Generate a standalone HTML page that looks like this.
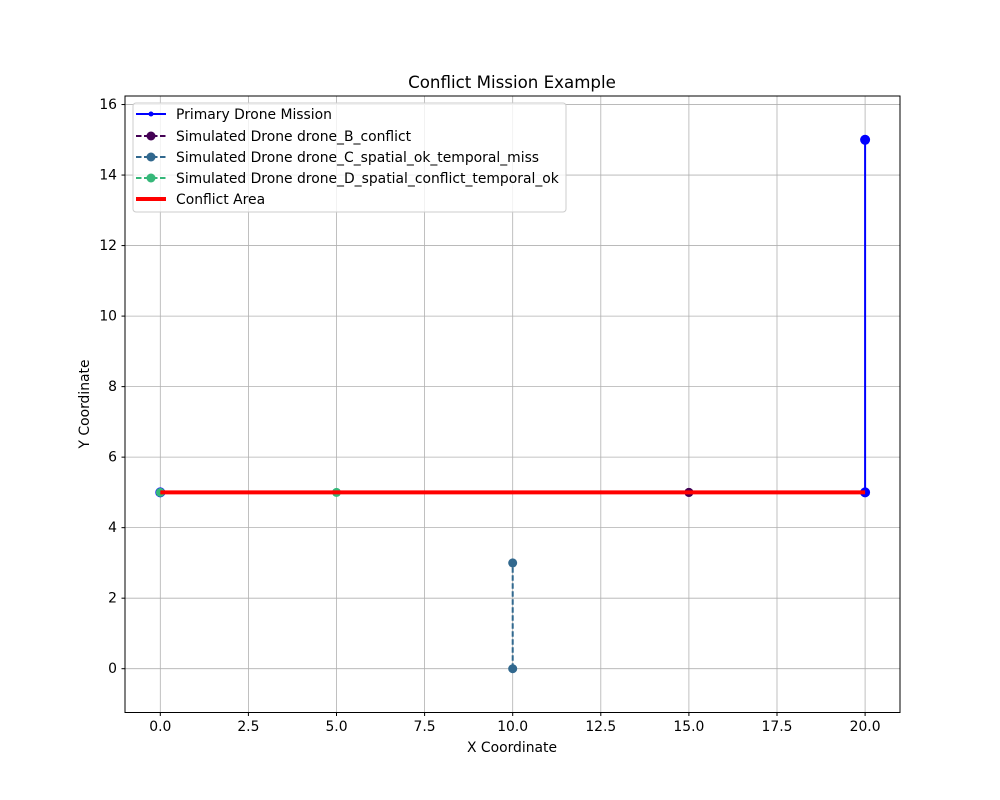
<!DOCTYPE html>
<html><head><meta charset="utf-8"><style>body{margin:0;background:#fff}svg{display:block;font-family:"DejaVu Sans","Liberation Sans",sans-serif}</style></head>
<body>
<svg id="chart" width="1000" height="800" viewBox="0 0 1000 800">
<rect width="1000" height="800" fill="#fff"/>
<g id="grid"></g>
<g id="marks"></g>
<rect x="125" y="96" width="775" height="616.5" fill="none" stroke="#000" stroke-width="1"/>
<g id="ticks" font-size="13.9" fill="#000"></g>
<text x="512" y="88" text-anchor="middle" font-size="16.67">Conflict Mission Example</text>
<text x="512" y="752" text-anchor="middle" font-size="13.9">X Coordinate</text>
<text transform="translate(89,404) rotate(-90)" text-anchor="middle" font-size="13.9">Y Coordinate</text>
<g>
<rect x="133" y="103" width="433" height="109" rx="3" fill="#fff" fill-opacity="0.8" stroke="#ccc"/>
<line x1="136" y1="114" x2="166" y2="114" stroke="#0000ff" stroke-width="2"/><circle cx="151" cy="114" r="2.5" fill="#0000ff"/>
<text x="176" y="119" font-size="13.9">Primary Drone Mission</text>
<line x1="136" y1="136" x2="166" y2="136" stroke="#440154" stroke-width="2" stroke-dasharray="5.5,2.5"/><circle cx="151" cy="136" r="4.5" fill="#440154"/>
<text x="176" y="141" font-size="13.9">Simulated Drone drone_B_conflict</text>
<line x1="136" y1="157" x2="166" y2="157" stroke="#31688e" stroke-width="2" stroke-dasharray="5.5,2.5"/><circle cx="151" cy="157" r="4.5" fill="#31688e"/>
<text x="176" y="162" font-size="13.9">Simulated Drone drone_C_spatial_ok_temporal_miss</text>
<line x1="136" y1="178" x2="166" y2="178" stroke="#35b779" stroke-width="2" stroke-dasharray="5.5,2.5"/><circle cx="151" cy="178" r="4.5" fill="#35b779"/>
<text x="176" y="183" font-size="13.9">Simulated Drone drone_D_spatial_conflict_temporal_ok</text>
<line x1="136" y1="199" x2="166" y2="199" stroke="#ff0000" stroke-width="4"/>
<text x="176" y="204" font-size="13.9">Conflict Area</text>
</g>
</svg>
<script>
const xTicks=[0,2.5,5,7.5,10,12.5,15,17.5,20];
const xTickLabels=["0.0","2.5","5.0","7.5","10.0","12.5","15.0","17.5","20.0"];
const yTicks=[0,2,4,6,8,10,12,14,16];
const primaryX=[0,20,20];
const primaryY=[5,5,15];
const droneBX=[15,15];
const droneBY=[5,5];
const droneCX=[10,10];
const droneCY=[0,3];
const droneDX=[0,5];
const droneDY=[5,5];
const conflictX=[0,20];
const conflictY=[5,5];
const NS="http://www.w3.org/2000/svg";
function sx(v){return 160.3+v*35.24;}
function sy(v){return 668.7-v*35.26;}
function mk(tag,attrs,parent){const e=document.createElementNS(NS,tag);for(const k in attrs)e.setAttribute(k,attrs[k]);parent.appendChild(e);return e;}
const grid=document.getElementById('grid'),ticks=document.getElementById('ticks'),marks=document.getElementById('marks');
xTicks.forEach((t,i)=>{const x=sx(t);
 const g=mk('line',{x1:x,x2:x,y1:96,y2:712.5,stroke:'#b0b0b0','stroke-width':0.8},grid);
 
 
 mk('line',{x1:x,x2:x,y1:712.5,y2:716,stroke:'#000'},ticks);
 const tx=mk('text',{x:x,y:731,'text-anchor':'middle'},ticks);tx.textContent=xTickLabels[i];
 
 });
yTicks.forEach(t=>{const y=sy(t);
 const g=mk('line',{x1:125,x2:900,y1:y,y2:y,stroke:'#b0b0b0','stroke-width':0.8},grid);
 
 
 mk('line',{x1:121.5,x2:125,y1:y,y2:y,stroke:'#000'},ticks);
 const tx=mk('text',{x:117,y:y+4.5,'text-anchor':'end'},ticks);tx.textContent=String(t);
 
 });
function series(xs,ys,color,dash,r,name,lw){
 const pts=xs.map((x,i)=>sx(x)+','+sy(ys[i])).join(' ');
 const pl=mk('polyline',{points:pts,fill:'none',stroke:color,'stroke-width':lw||2},marks);
 if(dash)pl.setAttribute('stroke-dasharray',dash);
 
 
 if(r){xs.forEach((x,i)=>{const c=mk('circle',{cx:sx(x),cy:sy(ys[i]),r:r,fill:color},marks);
  
  });}
}
series(primaryX,primaryY,'#0000ff',null,5,'primary-mission');
series(droneDX,droneDY,'#35b779','5.5,2.5',4.5,'drone-d');
series(droneCX,droneCY,'#31688e','5.5,2.5',4.5,'drone-c');
series(droneBX,droneBY,'#440154','5.5,2.5',4.5,'drone-b');
series(conflictX,conflictY,'#ff0000',null,0,'conflict-area',4);
</script>
</body></html>
